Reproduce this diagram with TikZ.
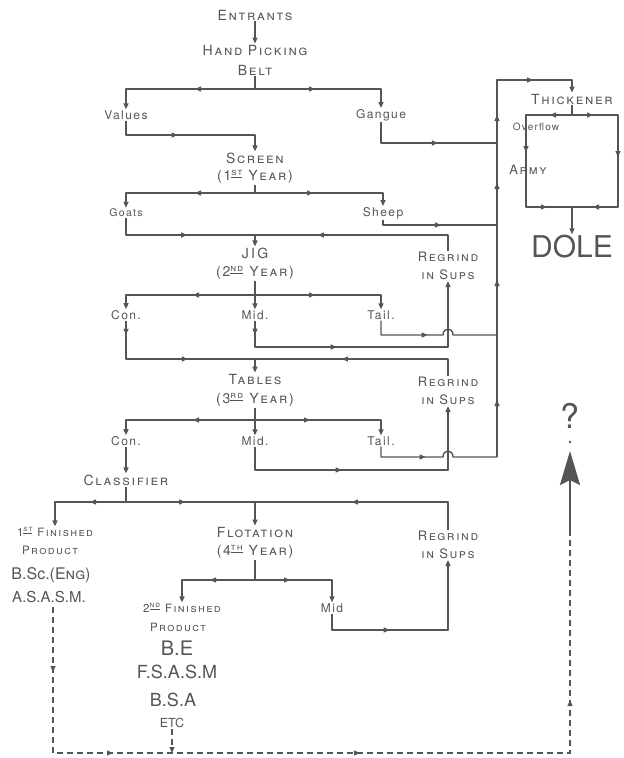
\documentclass[tikz,border=0pt]{standalone}
\usepackage{fontspec}
\setmainfont{TeX Gyre Heros}
\newfontfamily\hand[LetterSpace=12]{TeX Gyre Heros}
\usetikzlibrary{arrows.meta,decorations.markings}
\definecolor{ink}{HTML}{555555}
\begin{document}
\begin{tikzpicture}[x=1pt,y=-1pt,
  >={Triangle[length=6pt,width=5pt]},
  every node/.style={inner sep=1pt, text=ink, align=center},
  lab/.style={font=\hand\fontsize{14}{18}\selectfont\scshape},
  labs/.style={font=\hand\fontsize{13}{18}\selectfont\scshape},
  labt/.style={font=\hand\fontsize{11.5}{12}\selectfont\scshape},
  sm/.style={font=\hand\fontsize{12}{12}\selectfont},
  big/.style={font=\fontsize{19}{20}\selectfont},
  flow/.style={draw=ink, line width=1.4pt, line join=round},
  am/.style={postaction={decorate,decoration={markings,mark=at position #1 with {\arrow{>}}}}},
  dsh/.style={draw=ink, line width=1.2pt, dash pattern=on 6pt off 4pt},
]
\useasboundingbox (0,0) rectangle (624,758);

% ---------- nodes ----------
\node[lab] (entr) at (255,15) {Entrants};
\node[lab] (hp) at (255,50) {Hand Picking};
\node[lab] (belt) at (255,70) {Belt};
\node[sm] (values) at (126,115) {Values};
\node[sm] (gangue) at (381,115) {Gangue};
\node[lab] (screen) at (255,158) {Screen};
\node[lab] (screenyr) at (255,177) {(1\textsuperscript{\underline{st}} Year)};
\node[sm,font=\hand\fontsize{10.5}{11}\selectfont] (goats) at (126,213) {Goats};
\node[sm] (sheep) at (383,213) {Sheep};
\node[lab] (jig) at (255,253) {J\,I\,G};
\node[lab] (jigyr) at (255,273) {(2\textsuperscript{\underline{nd}} Year)};
\node[labs] (rg1) at (448,266) {Regrind\\in Sups};
\node[sm] (con1) at (126,315) {Con.};
\node[sm] (mid1) at (255,315) {Mid.};
\node[sm] (tail1) at (381,315) {Tail.};
\node[lab] (tables) at (255,379) {Tables};
\node[lab] (tablesyr) at (255,400) {(3\textsuperscript{\underline{rd}} Year)};
\node[labs] (rg2) at (448,391) {Regrind\\in Sups};
\node[sm] (con2) at (126,441) {Con.};
\node[sm] (mid2) at (255,441) {Mid.};
\node[sm] (tail2) at (381,441) {Tail.};
\node[lab] (classifier) at (126,480) {Classifier};
\node[labt] (fp1) at (55,532) {1\textsuperscript{\underline{st}} Finished};
\node[labt] (prod1) at (50,550) {Product};
\node[big,font=\fontsize{16}{17}\selectfont] (bsc) at (51,575) {B.Sc.(\textsc{Eng})};
\node[big,font=\fontsize{15}{16}\selectfont] (asasm) at (49,597) {A.S.A.S.M.};
\node[lab] (flot) at (255,532) {Flotation};
\node[lab] (flotyr) at (255,552) {(4\textsuperscript{\underline{th}} Year)};
\node[labs] (rg3) at (448,545) {Regrind\\in Sups};
\node[labt] (fp2) at (182,608) {2\textsuperscript{\underline{nd}} Finished};
\node[labt] (prod2) at (178,627) {Product};
\node[sm] (mid3) at (332,608) {Mid};
\node[big,font=\fontsize{20}{21}\selectfont] (be) at (177,648) {B.E};
\node[big,font=\fontsize{18}{19}\selectfont] (fsasm) at (177,672) {F.S.A.S.M};
\node[big,font=\fontsize{18}{19}\selectfont] (bsa) at (173,700) {B.S.A};
\node[font=\fontsize{12.5}{13}\selectfont] (etc) at (172,723) {ETC};
\node[lab] (thick) at (572,99) {Thickener};
\node[sm,font=\hand\fontsize{10}{11}\selectfont] (overflow) at (536,127) {Overflow};
\node[labs] (army) at (528,170) {Army};
\node[font=\fontsize{30}{32}\selectfont] (dole) at (572,247) {DOLE};
\node[font=\fontsize{34}{36}\selectfont] (q) at (570,416) {?};

% ---------- coordinates ----------
\coordinate (j1) at (255,89);
\coordinate (v1) at (126,135);
\coordinate (v2) at (255,135);
\coordinate (g1) at (381,143);
\coordinate (g2) at (497,143);
\coordinate (rb) at (497,457);
\coordinate (rt) at (497,80);
\coordinate (tt) at (572,80);
\coordinate (bt) at (572,115);
\coordinate (btl) at (526,115);
\coordinate (btr) at (618,115);
\coordinate (bbl) at (526,207);
\coordinate (bbr) at (618,207);
\coordinate (bb) at (572,207);
\coordinate (j2) at (255,193);
\coordinate (gt1) at (126,235);
\coordinate (j3) at (255,235);
\coordinate (rg1t) at (448,235);
\coordinate (s1) at (383,225);
\coordinate (s2) at (497,225);
\coordinate (j4) at (255,295);
\coordinate (c1) at (126,359);
\coordinate (j5) at (255,359);
\coordinate (rg2t) at (448,359);
\coordinate (m1a) at (255,347);
\coordinate (m1b) at (448,347);
\coordinate (t1a) at (381,335);
\coordinate (t1b) at (497,335);
\coordinate (j6) at (255,420);
\coordinate (m2a) at (255,470);
\coordinate (m2b) at (448,470);
\coordinate (t2a) at (381,457);
\coordinate (j7) at (126,502);
\coordinate (j8) at (255,502);
\coordinate (rg3t) at (448,502);
\coordinate (j9) at (255,580);
\coordinate (m3a) at (332,630);
\coordinate (m3b) at (448,630);
\coordinate (dl) at (53,607);
\coordinate (dbl) at (53,753);
\coordinate (dbr) at (570,753);
\coordinate (drt) at (570,530);
\coordinate (etcb) at (172,753);
\coordinate (qa) at (570,451);

% ---------- connectors ----------
\draw[flow,->] (entr) -- (hp);
\draw[flow] (belt) -- (j1);
\draw[flow,->,am=60pt] (j1) -| (values);
\draw[flow,->,am=60pt] (j1) -| (gangue);
\draw[flow,->,am=66pt] (values) -- (v1) -- (v2) -- (screen);
\draw[flow,am=78pt] (gangue) -- (g1) -- (g2);

% riser to thickener
\draw[flow,->,am=57pt,am=177pt,am=274pt,am=342pt,am=413pt] (rb) -- (rt) -- (tt) -- (thick);
\draw[flow] (thick) -- (bt);
\draw[flow,am=22pt,am=83pt,am=159pt] (bt) -- (btl) -- (bbl) -- (bb);
\draw[flow,am=21pt,am=88pt,am=163pt] (bt) -- (btr) -- (bbr) -- (bb);
\draw[flow,->] (bb) -- (dole);

% screen
\draw[flow] (screenyr) -- (j2);
\draw[flow,->,am=60pt] (j2) -| (goats);
\draw[flow,->,am=58pt] (j2) -| (sheep);
\draw[flow,am=78pt] (goats) -- (gt1) -- (j3);
\draw[flow,am=146pt] (rg1) -- (rg1t) -- (j3);
\draw[flow,->] (j3) -- (jig);
\draw[flow,am=63pt] (sheep) -- (s1) -- (s2);

% jig
\draw[flow] (jigyr) -- (j4);
\draw[flow,->,am=62pt] (j4) -| (con1);
\draw[flow,->,am=60pt] (j4) -| (tail1);
\draw[flow,->] (j4) -- (mid1);
\draw[flow,am=14pt,am=100pt] (con1) -- (c1) -- (j5);
\draw[flow,am=123pt] (rg2) -- (rg2t) -- (j5);
\draw[flow,->] (j5) -- (tables);
\draw[flow,->,am=14pt,am=108pt] (mid1) -- (m1a) -- (m1b) -- (rg1);
\draw[flow,am=61pt] (tail1) -- (t1a) -- ++(62,0) .. controls +(0,-8) and +(0,-8) .. ++(10,0) -- (t1b);

% tables
\draw[flow] (tablesyr) -- (j6);
\draw[flow,->,am=62pt] (j6) -| (con2);
\draw[flow,->,am=55pt] (j6) -| (tail2);
\draw[flow,->] (j6) -- (mid2);
\draw[flow,->] (con2) -- (classifier);
\draw[flow,->,am=110pt] (mid2) -- (m2a) -- (m2b) -- (rg2);
\draw[flow,am=55pt] (tail2) -- (t2a) -- ++(62,0) .. controls +(0,-8) and +(0,-8) .. ++(10,0) -- (rb);

% classifier
\draw[flow] (classifier) -- (j7);
\draw[flow,->,am=36pt] (j7) -| (fp1);
\draw[flow,->,am=59pt] (j7) -- (j8) -- (flot);
\draw[flow,am=124pt] (rg3) -- (rg3t) -- (j8);

% flotation
\draw[flow] (flotyr) -- (j9);
\draw[flow,->,am=45pt] (j9) -| (fp2);
\draw[flow,->,am=35pt] (j9) -| (mid3);
\draw[flow,->,am=74pt] (mid3) -- (m3a) -- (m3b) -- (rg3);

% dashed return
\draw[dsh,am=65pt,am=206pt,am=453pt,am=716pt] (dl) -- (dbl) -- (dbr) -- (drt);
\draw[dsh,->] (etc) -- (etcb);
\draw[ink, line width=2.6pt, -{Stealth[length=34pt,width=20pt,inset=5pt]}] (drt) -- (qa);
\fill[ink] (570,442) circle (1.3pt);
\end{tikzpicture}
\end{document}
